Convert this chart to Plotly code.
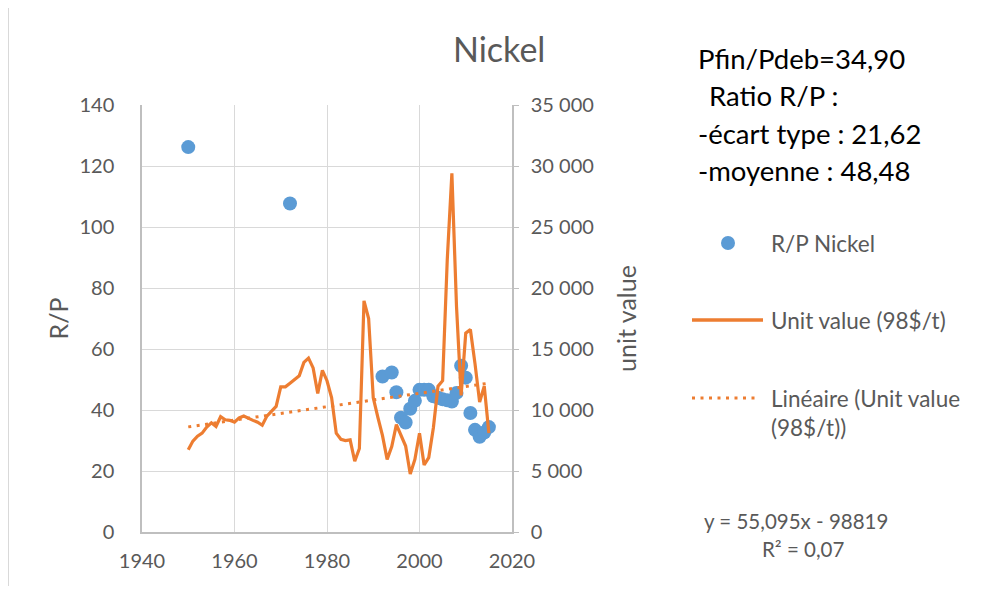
import plotly.graph_objects as go

# ---------------- data ----------------
rp_years = [1950, 1972, 1992, 1994, 1995, 1996, 1997, 1998, 1999, 2000, 2001, 2002,
            2003, 2004, 2005, 2006, 2007, 2008, 2009, 2010, 2011, 2012, 2013, 2014, 2015]
rp_values = [126.2, 107.7, 51.0, 52.3, 45.8, 37.5, 35.9, 40.4, 43.0, 46.6, 46.6, 46.6,
             44.5, 44.0, 43.5, 43.2, 42.8, 45.6, 54.5, 50.6, 39.0, 33.5, 31.2, 32.6, 34.4]

uv_years = list(range(1950, 2016))
uv_values = [6750, 7450, 7850, 8100, 8600, 8950, 8650, 9450, 9200, 9150,
             9000, 9350, 9500, 9300, 9150, 9000, 8750, 9500, 9900, 10300,
             11900, 11900, 12200, 12500, 12800, 13900, 14250, 13450, 11350, 13250,
             12400, 11000, 8100, 7600, 7500, 7550, 5800, 6850, 18950, 17500,
             11000, 9400, 7900, 5950, 7000, 8800, 7900, 7050, 4750, 5950,
             8100, 5500, 6100, 8550, 11950, 12400, 22300, 29400, 18500, 11200,
             16300, 16600, 13800, 10650, 11950, 8100]

# trendline coefficients as displayed in the chart (y = 55,095x - 98819)
TREND_SLOPE = 55.095
TREND_INTERCEPT = -98819
trend_values = [TREND_SLOPE * y + TREND_INTERCEPT for y in uv_years]

x_ticks = [1940, 1960, 1980, 2000, 2020]
left_ticks = [0, 20, 40, 60, 80, 100, 120, 140]
right_ticks = [0, 5000, 10000, 15000, 20000, 25000, 30000, 35000]

BLUE = "#5B9BD5"
ORANGE = "#ED7D31"
GRAY = "#595959"
FONT = "Lato"

OFF = 8  # page body margin
W, H = 989 - 2 * OFF, 594 - 2 * OFF
# plot area in reference pixels: x 142..512, y 105..532
L = 142 - OFF
T = 105 - OFF
R = W - (512 - OFF)
B = H - (532 - OFF)
PW, PH = W - L - R, H - T - B


def px(x):
    return (x - OFF - L) / PW


def py(y):
    return (H - B - (y - OFF)) / PH


fig = go.Figure()

fig.add_trace(go.Scatter(x=rp_years, y=rp_values, mode="markers", name="R/P Nickel",
                         marker=dict(color=BLUE, size=14), yaxis="y"))
fig.add_trace(go.Scatter(x=uv_years, y=uv_values, mode="lines", name="Unit value (98$/t)",
                         line=dict(color=ORANGE, width=3.2), yaxis="y2"))
fig.add_trace(go.Scatter(x=uv_years, y=trend_values, mode="lines",
                         name="Linéaire (Unit value (98$/t))",
                         line=dict(color=ORANGE, width=3, dash="3px,5.5px"), yaxis="y2"))

fig.update_layout(
    width=W, height=H,
    margin=dict(l=L, r=R, t=T, b=B, pad=0),
    paper_bgcolor="white", plot_bgcolor="white",
    showlegend=False,
    separators=", ",
    font=dict(family=FONT, color=GRAY, size=20),
    xaxis=dict(range=[1940, 2020], tickvals=x_ticks, showgrid=True, gridcolor="#D9D9D9",
               gridwidth=1, showline=True, linecolor="#BFBFBF", linewidth=1.5,
               zeroline=False, ticks="", ticklabelstandoff=10,
               tickfont=dict(size=20, color=GRAY)),
    yaxis=dict(range=[0, 140], tickvals=left_ticks, showgrid=True, gridcolor="#D9D9D9",
               gridwidth=1, showline=True, linecolor="#BFBFBF", linewidth=1.5,
               zeroline=False, ticks="", ticklabelstandoff=22,
               title=dict(text="R/P", font=dict(size=25, color=GRAY), standoff=4),
               tickfont=dict(size=20, color=GRAY)),
    yaxis2=dict(range=[0, 35000], tickvals=right_ticks, overlaying="y", side="right",
                showgrid=False, showline=True, linecolor="#BFBFBF", linewidth=1.5,
                zeroline=False, ticks="outside", ticklen=5, tickcolor="#BFBFBF",
                ticklabelstandoff=8, tickformat=",d",
                title=dict(text="unit value", font=dict(size=25, color=GRAY), standoff=26),
                tickfont=dict(size=20, color=GRAY)),
)

ann = []
# title
ann.append(dict(text="Nickel", x=px(499), y=py(48), xref="paper", yref="paper",
                showarrow=False, xanchor="center", yanchor="middle",
                font=dict(size=34, color=GRAY, family=FONT)))
# stats block
stats = ["Pfin/Pdeb=34,90", "Ratio R/P :", "-écart type : 21,62", "-moyenne : 48,48"]
stats_y = [58, 96, 134, 171]
stats_x = [696, 707, 696, 696]
for t, yy, xx in zip(stats, stats_y, stats_x):
    ann.append(dict(text=t, x=px(xx), y=py(yy), xref="paper", yref="paper", showarrow=False,
                    xanchor="left", yanchor="middle",
                    font=dict(size=27.5, color="#000000", family=FONT)))
# legend texts
leg = [("R/P Nickel", 243), ("Unit value (98$/t)", 320), ("Linéaire (Unit value", 398),
       ("(98$/t))", 427)]
for t, yy in leg:
    ann.append(dict(text=t, x=px(769), y=py(yy), xref="paper", yref="paper", showarrow=False,
                    xanchor="left", yanchor="middle", font=dict(size=22.5, color=GRAY, family=FONT)))
# trendline equation
ann.append(dict(text="y = 55,095x - 98819", x=px(796), y=py(521), xref="paper", yref="paper",
                showarrow=False, xanchor="center", yanchor="middle",
                font=dict(size=20.5, color=GRAY, family=FONT)))
ann.append(dict(text="R² = 0,07", x=px(803), y=py(549), xref="paper", yref="paper",
                showarrow=False, xanchor="center", yanchor="middle",
                font=dict(size=20.5, color=GRAY, family=FONT)))
fig.update_layout(annotations=ann)

shapes = [
    # legend marker
    dict(type="circle", xref="paper", yref="paper", x0=px(721), x1=px(735), y0=py(250), y1=py(236),
         fillcolor=BLUE, line=dict(width=0)),
    # legend solid line
    dict(type="line", xref="paper", yref="paper", x0=px(692), x1=px(763), y0=py(320), y1=py(320),
         line=dict(color=ORANGE, width=3.5)),
    # legend dotted line
    dict(type="line", xref="paper", yref="paper", x0=px(692), x1=px(760), y0=py(398), y1=py(398),
         line=dict(color=ORANGE, width=3, dash="3px,5.5px")),
    # chart outer border (left edge)
    dict(type="line", xref="paper", yref="paper", x0=px(8.5), x1=px(8.5), y0=py(586), y1=py(8),
         line=dict(color="#D9D9D9", width=1)),
]
fig.update_layout(shapes=shapes)

fig.write_html("out.html")
